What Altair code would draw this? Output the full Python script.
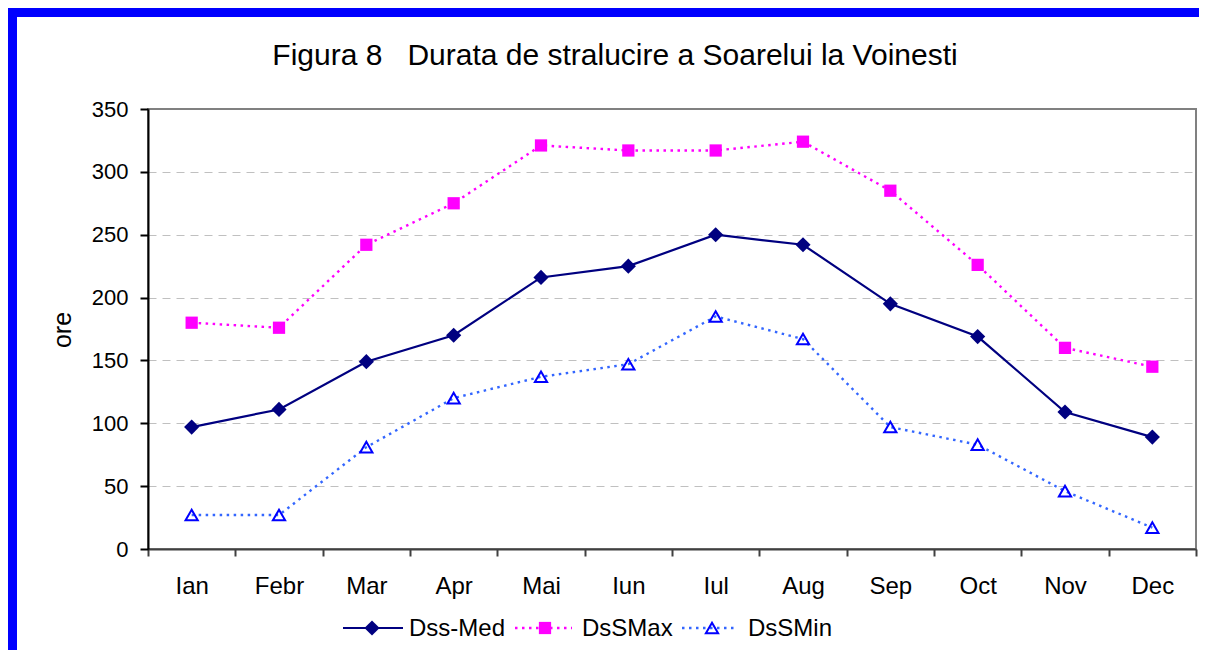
import altair as alt
import pandas as pd

months = ["Ian", "Febr", "Mar", "Apr", "Mai", "Iun", "Iul", "Aug", "Sep", "Oct", "Nov", "Dec"]
dss_med = [97, 111, 149, 170, 216, 225, 250, 242, 195, 169, 109, 89]
dss_max = [180, 176, 242, 275, 321, 317, 317, 324, 285, 226, 160, 145]
dss_min = [27, 27, 81, 120, 137, 147, 185, 167, 97, 83, 46, 17]
y_ticks = [0, 50, 100, 150, 200, 250, 300, 350]
title_text = "Figura 8\u00a0\u00a0 Durata de stralucire a Soarelui la Voinesti"
y_title = "ore"
series_names = ["Dss-Med", "DsSMax", "DsSMin"]

W, H = 1048, 440
FONT = "Liberation Sans"

x_enc = alt.X(
    "month:N", sort=months,
    scale=alt.Scale(type="band", paddingInner=0, paddingOuter=0),
    bandPosition=0.5,
    axis=alt.Axis(tickBand="extent", labelAngle=0, tickSize=7, tickWidth=2,
                  domainColor="#404040", tickColor="#404040", domainWidth=2,
                  labelFontSize=24, labelFont=FONT, labelColor="black",
                  labelPadding=18, title=None, grid=False),
)
y_enc = alt.Y(
    "value:Q", scale=alt.Scale(domain=[0, 350], nice=False, zero=True),
    axis=alt.Axis(values=y_ticks, grid=True, gridDash=[8, 6], gridColor="#C0C0C0",
                  gridOpacity=alt.condition("datum.value == 0 || datum.value == 350", alt.value(0), alt.value(1)),
                  domainColor="black", domainWidth=2, tickColor="black", tickSize=8, tickWidth=2,
                  labelFontSize=22, labelFont=FONT, labelColor="black", labelPadding=12, title=None),
)


def frame(vals):
    return pd.DataFrame({"month": months, "value": vals})


med = alt.Chart(frame(dss_med))
mx = alt.Chart(frame(dss_max))
mn = alt.Chart(frame(dss_min))

DIAMOND = dict(shape="diamond", filled=True, size=230, color="#000080")
SQUARE = dict(shape="square", filled=True, size=150, color="#FF00FF")
TRI = dict(shape="triangle-up", filled=False, size=150, color="#0000FF", strokeWidth=2)
LMED = dict(color="#000080", strokeWidth=2.2)
LMAX = dict(color="#FF00FF", strokeWidth=2.4, strokeDash=[2.5, 4.5])
LMIN = dict(color="#3366FF", strokeWidth=2.4, strokeDash=[2.5, 4.5])

layers = [
    med.mark_line(**LMED).encode(x=x_enc, y=y_enc),
    mx.mark_line(**LMAX).encode(x=x_enc, y=y_enc),
    mn.mark_line(**LMIN).encode(x=x_enc, y=y_enc),
    med.mark_point(opacity=1, **DIAMOND).encode(x=x_enc, y=y_enc),
    mx.mark_point(opacity=1, **SQUARE).encode(x=x_enc, y=y_enc),
    mn.mark_point(opacity=1, **TRI).encode(x=x_enc, y=y_enc),
]

one = pd.DataFrame({"k": [0]})
base1 = alt.Chart(one)

# title and axis title
layers.append(base1.mark_text(text=title_text, font=FONT, fontSize=30, align="center", baseline="alphabetic", color="black")
              .encode(x=alt.value(467), y=alt.value(-44)))
layers.append(base1.mark_text(text=y_title, font=FONT, fontSize=25, angle=270, align="center", baseline="middle", color="black")
              .encode(x=alt.value(-85), y=alt.value(221)))

# custom legend
LY = 519
leg = [
    (series_names[0], 195, 255, 224, DIAMOND, LMED, 261),
    (series_names[1], 367, 424, 397, SQUARE, LMAX, 434),
    (series_names[2], 534, 589, 564, TRI, LMIN, 600),
]
for name, x1, x2, xm, pt, ln, xt in leg:
    layers.append(base1.mark_rule(**ln).encode(x=alt.value(x1), x2=alt.value(x2), y=alt.value(LY)))
    layers.append(base1.mark_point(opacity=1, **pt).encode(x=alt.value(xm), y=alt.value(LY)))
    layers.append(base1.mark_text(text=name, font=FONT, fontSize=24, align="left", baseline="middle", color="black")
                  .encode(x=alt.value(xt), y=alt.value(LY + 1)))

# blue frame
layers.append(base1.mark_rect(fill="white", fillOpacity=0, stroke="#0000FF", strokeWidth=9)
              .encode(x=alt.value(-135.5), x2=alt.value(1150), y=alt.value(-96.5), y2=alt.value(650)))

chart = alt.layer(*layers).properties(
    width=W, height=H,
    autosize=alt.AutoSizeParams(type="none"),
    padding={"left": 140, "top": 101, "right": 3, "bottom": 101},
    background="white",
).configure_view(stroke="#808080", strokeWidth=2)

chart.save("out.html", embed_options={"renderer": "svg", "actions": False})
